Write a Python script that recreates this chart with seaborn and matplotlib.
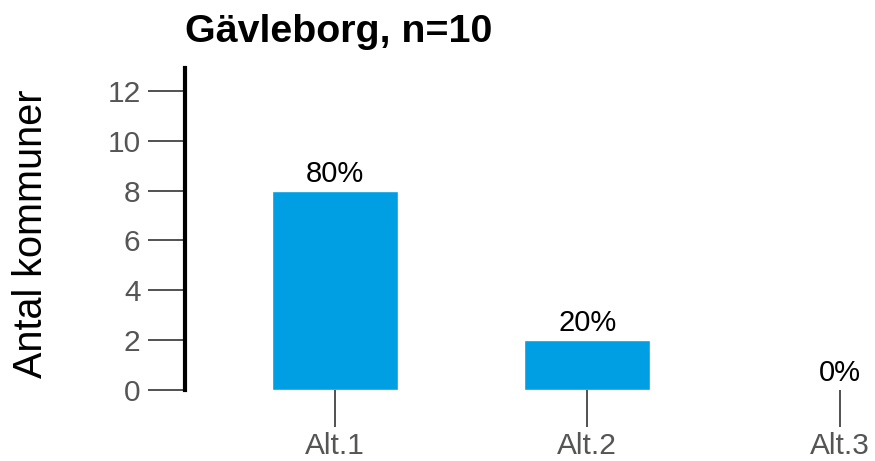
import matplotlib
matplotlib.use('Agg')
import matplotlib.pyplot as plt
import seaborn as sns
import pandas as pd

# Data
kategorier = ['Alt.1', 'Alt.2', 'Alt.3']
antal = [8, 2, 0]
n_totalt = 10
procent = [f'{round(v / n_totalt * 100)}%' for v in antal]

df = pd.DataFrame({'kategori': kategorier, 'antal': antal})

sns.set_style('white')
plt.rcParams['font.family'] = ['Liberation Sans', 'DejaVu Sans']

fig = plt.figure(figsize=(8.75, 4.61), dpi=100)
ax = fig.add_axes([185 / 875, 1 - 390 / 461, 680 / 875, 322 / 461])

sns.barplot(data=df, x='kategori', y='antal', color='#009FE3', width=0.5,
            saturation=1, ax=ax)

ax.bar_label(ax.containers[0], labels=procent, padding=2, fontsize=21, color='black')

ax.set_xlim(-0.594, 2.1)
ax.set_ylim(0, 12.92)
ax.set_yticks(range(0, 13, 2))

ax.set_title('Gävleborg, n=10', loc='left', fontsize=28.4, fontweight='bold',
             pad=19, color='black')
ax.set_xlabel('')
ax.set_ylabel('Antal kommuner', fontsize=28.5, color='black')
ax.yaxis.set_label_coords(-0.199, 0.486)

for s in ['top', 'right', 'bottom']:
    ax.spines[s].set_visible(False)
ax.spines['left'].set_linewidth(3)
ax.spines['left'].set_color('black')

ax.tick_params(axis='both', direction='out', length=26.5, width=1.2,
               color='#333333', labelcolor='#555555', labelsize=21.5, pad=4)
ax.tick_params(axis='y', left=True, pad=5.5)
ax.tick_params(axis='x', bottom=True)

fig.savefig('out.png', dpi=100)
